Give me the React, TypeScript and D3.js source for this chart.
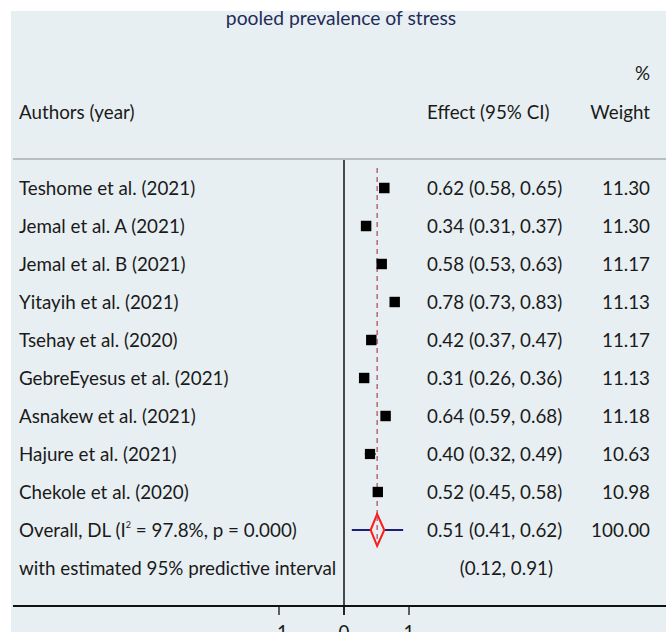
import React from "react";
import * as d3 from "d3";

const studies = [
  "Teshome et al. (2021)",
  "Jemal et al. A (2021)",
  "Jemal et al. B (2021)",
  "Yitayih et al. (2021)",
  "Tsehay et al. (2020)",
  "GebreEyesus et al. (2021)",
  "Asnakew et al. (2021)",
  "Hajure et al. (2021)",
  "Chekole et al. (2020)",
];
const effects = [0.62, 0.34, 0.58, 0.78, 0.42, 0.31, 0.64, 0.40, 0.52];
const lowers = [0.58, 0.31, 0.53, 0.73, 0.37, 0.26, 0.59, 0.32, 0.45];
const uppers = [0.65, 0.37, 0.63, 0.83, 0.47, 0.36, 0.68, 0.49, 0.58];
const weights = [11.30, 11.30, 11.17, 11.13, 11.17, 11.13, 11.18, 10.63, 10.98];
const overall = { label: "Overall, DL", i2: "97.8%", p: "0.000", es: 0.51, lo: 0.41, hi: 0.62, weight: 100.0 };
const predictive = { lo: 0.12, hi: 0.91 };
const xTicks = [-1, 0, 1];
const title = "pooled prevalence of stress";

const W = 666;
const H = 632;
const FONT = "Lato, 'Open Sans', sans-serif";

export default function App() {
  const x = d3.scaleLinear().domain([0, 1]).range([344, 409]);
  const y = d3.scaleLinear().domain([0, 1]).range([188, 226]);
  const f2 = d3.format(".2f");
  const textColor = "#1a1a1a";
  const fs = 18.8;
  const yOverall = y(studies.length);
  const yPred = y(studies.length + 1);
  const sq = (w: number) => 10.5 * Math.sqrt(w / 11.3);
  const axisY = 606;
  const diamondPts = [
    [x(overall.lo), yOverall],
    [x(overall.es), yOverall - 16],
    [x(overall.hi), yOverall],
    [x(overall.es), yOverall + 16],
  ]
    .map((p) => p.join(","))
    .join(" ");

  return (
    <svg
      width={W}
      height={H}
      style={{ position: "absolute", left: 0, top: 0, fontFamily: FONT }}
    >
      <rect x={0} y={0} width={W} height={H} fill="#ffffff" />
      <rect x={11} y={11} width={W - 11} height={H - 11} fill="#e8eff2" />
      <text x={341} y={25} textAnchor="middle" fontSize={19.3} fill="#1f2b58">
        {title}
      </text>
      {/* header */}
      <text x={650} y={80} textAnchor="end" fontSize={fs} fill={textColor}>
        %
      </text>
      <text x={19} y={119} fontSize={fs} fill={textColor}>
        Authors (year)
      </text>
      <text x={427} y={119} fontSize={fs} fill={textColor}>
        Effect (95% CI)
      </text>
      <text x={650} y={119} textAnchor="end" fontSize={fs} fill={textColor}>
        Weight
      </text>
      <line x1={13} x2={W} y1={159} y2={159} stroke="#b9bec1" strokeWidth={2} />

      {/* zero line */}
      <line x1={x(0)} x2={x(0)} y1={160} y2={615} stroke="#111" strokeWidth={1.5} />
      {/* overall dashed line */}
      <line
        x1={x(overall.es)}
        x2={x(overall.es)}
        y1={168}
        y2={yOverall + 16}
        stroke="#b0525a"
        strokeWidth={1.3}
        strokeDasharray="5,4"
      />

      {studies.map((s, i) => {
        const cy = y(i);
        const side = sq(weights[i]);
        return (
          <g key={s}>
            <text x={19} y={cy + 6.5} fontSize={fs} fill={textColor}>
              {s}
            </text>
            <line x1={x(lowers[i])} x2={x(uppers[i])} y1={cy} y2={cy} stroke="#111" strokeWidth={1.3} />
            <rect x={x(effects[i]) - side / 2} y={cy - side / 2} width={side} height={side} fill="#000" />
            <text x={427} y={cy + 6.5} fontSize={fs} fill={textColor}>
              {`${f2(effects[i])} (${f2(lowers[i])}, ${f2(uppers[i])})`}
            </text>
            <text x={650} y={cy + 6.5} textAnchor="end" fontSize={fs} fill={textColor}>
              {f2(weights[i])}
            </text>
          </g>
        );
      })}

      {/* overall */}
      <text x={19} y={yOverall + 6.5} fontSize={fs} fill={textColor}>
        {overall.label} (I
        <tspan fontSize={9} dy={-9}>2</tspan>
        <tspan dy={9}>{` = ${overall.i2}, p = ${overall.p})`}</tspan>
      </text>
      <line
        x1={x(predictive.lo)}
        x2={x(predictive.hi)}
        y1={yOverall}
        y2={yOverall}
        stroke="#1a1f7a"
        strokeWidth={2.2}
      />
      <polygon points={diamondPts} fill="#e8eff2" stroke="#ff1a1a" strokeWidth={2} />
      <line
        x1={x(overall.es)}
        x2={x(overall.es)}
        y1={yOverall - 14}
        y2={yOverall + 14}
        stroke="#b0525a"
        strokeWidth={1.3}
        strokeDasharray="5,4"
      />
      <text x={427} y={yOverall + 6.5} fontSize={fs} fill={textColor}>
        {`${f2(overall.es)} (${f2(overall.lo)}, ${f2(overall.hi)})`}
      </text>
      <text x={650} y={yOverall + 6.5} textAnchor="end" fontSize={fs} fill={textColor}>
        {f2(overall.weight)}
      </text>

      <text x={19} y={yPred + 6.5} fontSize={fs} fill={textColor}>
        with estimated 95% predictive interval
      </text>
      <text x={553} y={yPred + 6.5} textAnchor="end" fontSize={fs} fill={textColor}>
        {`(${f2(predictive.lo)}, ${f2(predictive.hi)})`}
      </text>

      {/* axis */}
      <line x1={13} x2={W} y1={axisY} y2={axisY} stroke="#111" strokeWidth={2} />
      {xTicks.map((t) => (
        <g key={t}>
          <line x1={x(t)} x2={x(t)} y1={axisY} y2={axisY + 9} stroke="#111" strokeWidth={1.3} />
          <text x={x(t)} y={axisY + 33} textAnchor="middle" fontSize={fs} fill={textColor}>
            {t}
          </text>
        </g>
      ))}
    </svg>
  );
}
